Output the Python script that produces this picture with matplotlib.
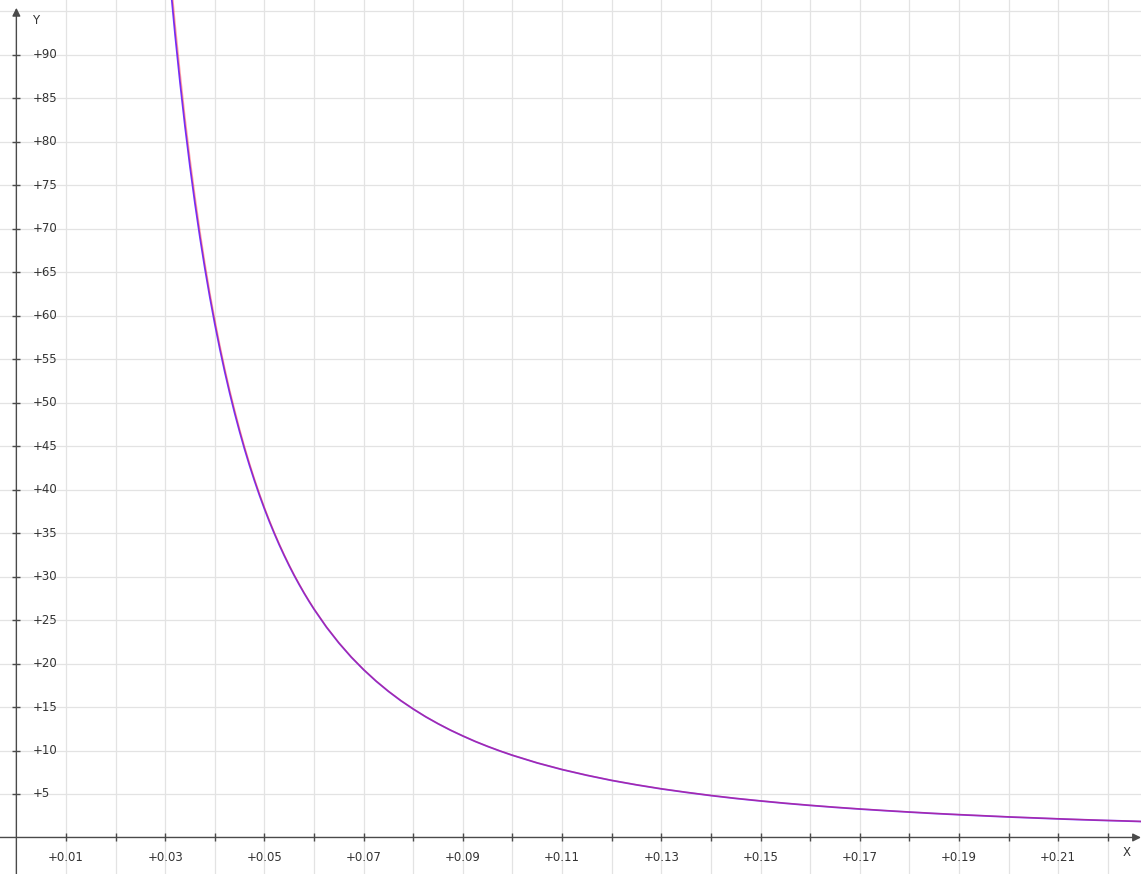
import matplotlib
matplotlib.use("Agg")
import matplotlib.pyplot as plt

# Data
x_vals = [0.031, 0.032, 0.033, 0.034, 0.035, 0.036, 0.037, 0.038, 0.039, 0.040,
          0.041, 0.042, 0.043, 0.044, 0.045, 0.046, 0.047, 0.048, 0.049, 0.050,
          0.051, 0.052, 0.053, 0.054, 0.055, 0.056, 0.057, 0.058, 0.059, 0.060,
          0.0625, 0.065, 0.0675, 0.070, 0.0725, 0.075, 0.0775, 0.080, 0.0825, 0.085,
          0.0875, 0.090, 0.0925, 0.095, 0.0975, 0.100, 0.105, 0.110, 0.115, 0.120,
          0.125, 0.130, 0.135, 0.140, 0.145, 0.150, 0.155, 0.160, 0.165, 0.170,
          0.175, 0.180, 0.185, 0.190, 0.195, 0.200, 0.205, 0.210, 0.215, 0.220,
          0.225, 0.227]
blue_y = [98.34, 92.29, 86.78, 81.75, 77.14, 72.92, 69.03, 65.44, 62.13, 59.06,
          56.22, 53.57, 51.11, 48.81, 46.67, 44.66, 42.78, 41.02, 39.36, 37.80,
          36.33, 34.95, 33.64, 32.41, 31.24, 30.13, 29.09, 28.09, 27.15, 26.25,
          24.19, 22.37, 20.74, 19.29, 17.98, 16.80, 15.73, 14.77, 13.88, 13.08,
          12.34, 11.67, 11.04, 10.47, 9.94, 9.45, 8.57, 7.81, 7.15, 6.56,
          6.05, 5.59, 5.19, 4.82, 4.49, 4.20, 3.93, 3.69, 3.47, 3.27,
          3.09, 2.92, 2.76, 2.62, 2.49, 2.36, 2.25, 2.14, 2.04, 1.95,
          1.87, 1.83]
red_y = [99.80, 93.60, 88.00, 82.80, 78.10, 73.80, 69.80, 66.10, 62.70, 59.60,
         56.70, 54.00, 51.50, 49.20, 47.00, 44.95, 43.05, 41.25, 39.57, 37.98,
         36.49, 35.09, 33.77, 32.52, 31.34, 30.22, 29.17, 28.16, 27.21, 26.30,
         24.23, 22.40, 20.77, 19.31, 18.00, 16.82, 15.75, 14.78, 13.89, 13.09,
         12.35, 11.68, 11.05, 10.48, 9.95, 9.46, 8.58, 7.82, 7.16, 6.57,
         6.06, 5.60, 5.20, 4.83, 4.50, 4.21, 3.94, 3.70, 3.48, 3.28,
         3.10, 2.93, 2.77, 2.63, 2.50, 2.37, 2.26, 2.15, 2.05, 1.96,
         1.88, 1.84]

x_ticks = [round(0.01 * i, 2) for i in range(1, 23)]
x_labels = ["+0.01", "+0.03", "+0.05", "+0.07", "+0.09", "+0.11",
            "+0.13", "+0.15", "+0.17", "+0.19", "+0.21"]
x_label_pos = [0.01, 0.03, 0.05, 0.07, 0.09, 0.11, 0.13, 0.15, 0.17, 0.19, 0.21]
y_ticks = [5, 10, 15, 20, 25, 30, 35, 40, 45, 50, 55, 60, 65, 70, 75, 80, 85, 90, 95]
y_labels = ["+5", "+10", "+15", "+20", "+25", "+30", "+35", "+40", "+45",
            "+50", "+55", "+60", "+65", "+70", "+75", "+80", "+85", "+90"]

XMIN, XMAX = -0.0033, 0.2267
YMIN, YMAX = -4.2, 96.3

fig = plt.figure(figsize=(11.41, 8.74), dpi=100)
ax = fig.add_axes([0, 0, 1, 1])
ax.set_xlim(XMIN, XMAX)
ax.set_ylim(YMIN, YMAX)
ax.axis("off")

grid_c = "#e3e3e3"
for xv in x_ticks:
    ax.axvline(xv, color=grid_c, lw=0.9, zorder=1)
for yv in y_ticks:
    ax.axhline(yv, color=grid_c, lw=0.9, zorder=1)

axis_c = "#4a4a4a"
ax.annotate("", xy=(XMAX, 0), xytext=(XMIN, 0),
            arrowprops=dict(arrowstyle="-|>", color=axis_c, lw=1.0,
                            mutation_scale=12, shrinkA=0, shrinkB=0), zorder=3)
ax.annotate("", xy=(0, 95.4), xytext=(0, YMIN),
            arrowprops=dict(arrowstyle="-|>", color=axis_c, lw=1.0,
                            mutation_scale=12, shrinkA=0, shrinkB=0), zorder=3)
ax.plot(x_ticks, [0] * len(x_ticks), ls="none", marker="|", ms=6, mew=1.0,
        color=axis_c, zorder=3)
ax.plot([0] * 18, y_ticks[:18], ls="none", marker="_", ms=6, mew=1.0,
        color=axis_c, zorder=3)

txt_c = "#333333"
for xv, lab in zip(x_label_pos, x_labels):
    ax.annotate(lab, xy=(xv, 0), xytext=(0, -14.5), textcoords="offset points",
                ha="center", va="center", fontsize=8.5, color=txt_c)
for yv, lab in zip(y_ticks[:18], y_labels):
    ax.annotate(lab, xy=(0, yv), xytext=(12, 0), textcoords="offset points",
                ha="left", va="center", fontsize=8.5, color=txt_c)
ax.annotate("Y", xy=(0, YMAX), xytext=(11, -15), textcoords="offset points",
            ha="left", va="center", fontsize=8.5, color=txt_c)
ax.annotate("X", xy=(XMAX, 0), xytext=(-10, -11), textcoords="offset points",
            ha="center", va="center", fontsize=8.5, color=txt_c)

ax.plot(x_vals, blue_y, color="#7030ff", lw=1.3, zorder=4,
        solid_joinstyle="round")
ax.plot(x_vals, red_y, color="#ff2020", lw=1.0, alpha=0.4, zorder=5,
        solid_joinstyle="round")

fig.savefig("out.png", dpi=100)
